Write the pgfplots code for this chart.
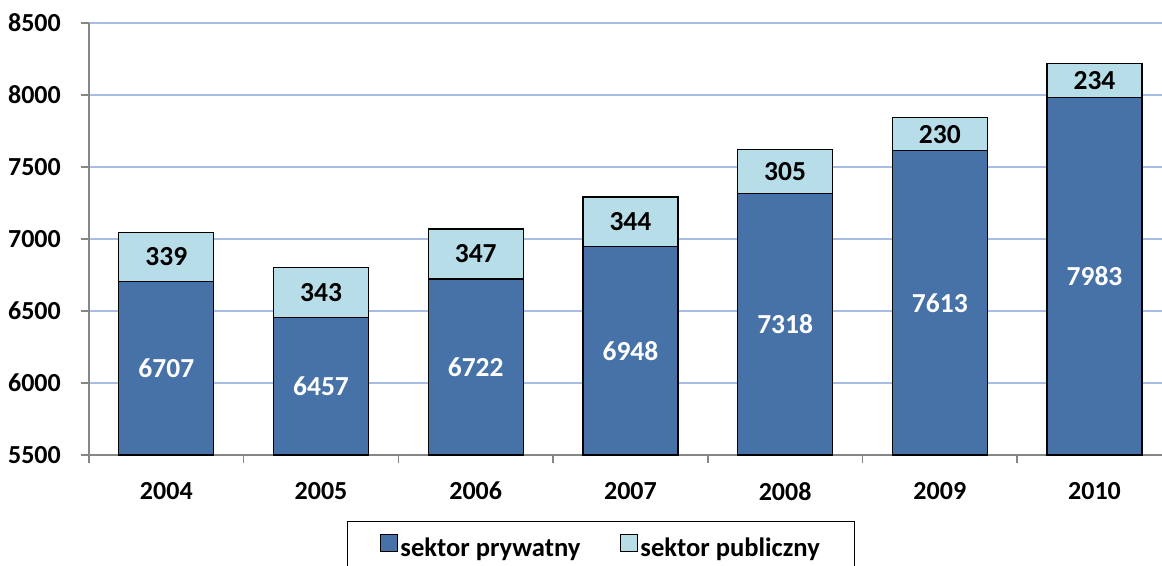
\documentclass[border=0pt]{standalone}
\usepackage{pgfplots}
\pgfplotsset{compat=1.18}
\usepackage{pgfplotstable}
\usepackage{fontspec}
\setmainfont{Carlito}

\definecolor{privblue}{RGB}{70,114,168}
\definecolor{publblue}{RGB}{183,222,232}
\definecolor{gridblue}{RGB}{166,190,228}
\definecolor{axisgray}{RGB}{134,134,134}

% rok, sektor prywatny, sektor publiczny
\pgfplotstableread{
x year priv publ
0 2004 6707 339
1 2005 6457 343
2 2006 6722 347
3 2007 6948 344
4 2008 7318 305
5 2009 7613 230
6 2010 7983 234
}\data

\pgfplotsset{
  /pgf/number format/assume math mode=true,
  /pgf/number format/1000 sep={},
}

\begin{document}
\fontsize{26}{31}\selectfont\bfseries
\begin{tikzpicture}
\begin{axis}[
  scale only axis,
  width=1073pt, height=432pt,
  xmin=-0.5, xmax=6.436,
  ymin=5500, ymax=8500,
  axis x line*=bottom,
  axis y line*=left,
  axis line style={axisgray, line width=1.5pt},
  ytick={5500,6000,...,8500},
  ymajorgrids,
  major grid style={gridblue, line width=1.3pt},
  xtick={0,...,6},
  xticklabels={2004,2005,2006,2007,2008,2009,2010},
  minor xtick={-0.5,0.5,...,5.5},
  major x tick style={draw=none},
  tick style={axisgray, line width=1.5pt},
  tick align=outside,
  major tick length=8pt, minor tick length=8pt,
  xticklabel style={inner sep=0pt, anchor=north, yshift=-19pt},
  yticklabel style={inner sep=0pt, anchor=east, xshift=-20pt},
  legend style={
    at={(axis description cs:0.2404,-0.1528)}, anchor=north west,
    draw=black, line width=1pt,
    legend columns=2,
    font=\fontsize{26.6}{31}\selectfont\bfseries,
    inner xsep=33pt, inner ysep=12pt,
    /tikz/every even column/.append style={column sep=38pt},
  },
  legend image code/.code={\draw[#1, line width=1pt] (0pt,-2pt) rectangle (17pt,15pt);},
]
\coordinate (ll) at (rel axis cs:0,0);

\addplot[ybar, bar width=95pt, bar shift=0pt, fill=publblue, draw=black, line width=1.3pt, forget plot]
  table[x=x, y expr=\thisrow{priv}+\thisrow{publ}] {\data};
\addplot[ybar, bar width=95pt, bar shift=0pt, fill=privblue, draw=black, line width=1.3pt, forget plot]
  table[x=x, y=priv] {\data};

% etykiety
\addplot[draw=none, no marks, forget plot, point meta=explicit,
  nodes near coords, every node near coord/.append style={anchor=center, text=white,
    font=\fontsize{27.5}{32}\selectfont\bfseries}]
  table[x=x, y expr={(\thisrow{priv}+5500)/2}, meta=priv] {\data};
\addplot[draw=none, no marks, forget plot, point meta=explicit,
  nodes near coords, every node near coord/.append style={anchor=center, text=black,
    font=\fontsize{27.5}{32}\selectfont\bfseries}]
  table[x=x, y expr={\thisrow{priv}+\thisrow{publ}/2}, meta=publ] {\data};

\addlegendimage{fill=privblue, draw=black}
\addlegendentry{sektor prywatny}
\addlegendimage{fill=publblue, draw=black}
\addlegendentry{sektor publiczny}
\end{axis}
\pgfresetboundingbox
\path[use as bounding box] ([shift={(-89pt,-110pt)}]ll) rectangle ([shift={(1073pt,455pt)}]ll);
\end{tikzpicture}
\end{document}
